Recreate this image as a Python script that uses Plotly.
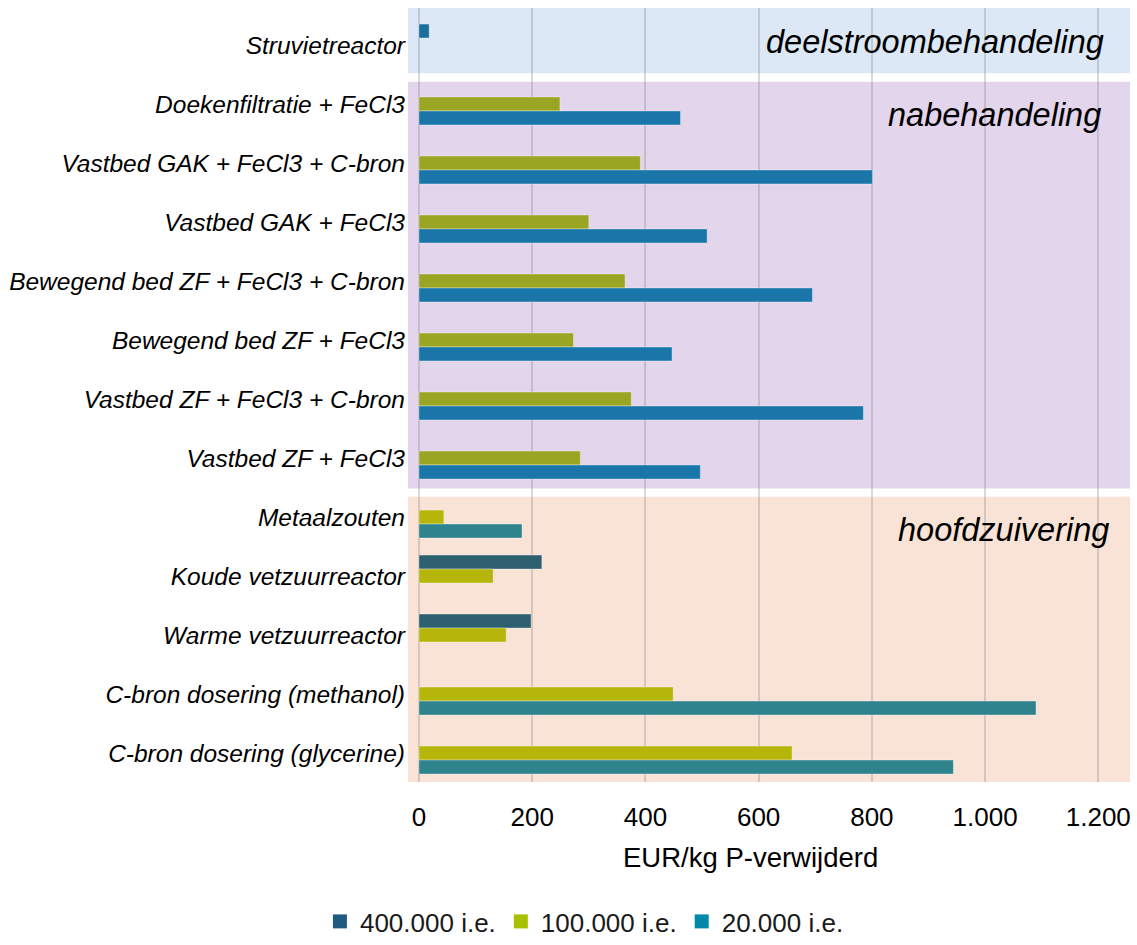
import plotly.graph_objects as go

# Maatregelen (van boven naar onder) en hun groep
categories = [
    "Struvietreactor",
    "Doekenfiltratie + FeCl3",
    "Vastbed GAK + FeCl3 + C-bron",
    "Vastbed GAK + FeCl3",
    "Bewegend bed ZF + FeCl3 + C-bron",
    "Bewegend bed ZF + FeCl3",
    "Vastbed ZF + FeCl3 + C-bron",
    "Vastbed ZF + FeCl3",
    "Metaalzouten",
    "Koude vetzuurreactor",
    "Warme vetzuurreactor",
    "C-bron dosering (methanol)",
    "C-bron dosering (glycerine)",
]
groups = ["deel"] + ["na"] * 7 + ["hoofd"] * 5

# Kosten in EUR/kg P-verwijderd per zuiveringsgrootte
series_names = ["400.000 i.e.", "100.000 i.e.", "20.000 i.e."]
v400 = [18, None, None, None, None, None, None, None, None, 217, 198, None, None]
v100 = [None, 249, 391, 300, 364, 273, 375, 285, 44, 131, 154, 449, 659]
v20 = [None, 462, 801, 509, 695, 447, 785, 497, 182, None, None, 1090, 944]

x_ticks = [0, 200, 400, 600, 800, 1000, 1200]
x_ticktext = ["0", "200", "400", "600", "800", "1.000", "1.200"]
x_title = "EUR/kg P-verwijderd"

group_labels = {"deel": "deelstroombehandeling", "na": "nabehandeling", "hoofd": "hoofdzuivering"}

# Kleuren per groep en per serie
bar_colors = {
    "deel": ["#1a6fa0", "#9aa523", "#1a75a8"],
    "na": ["#1f5b7a", "#9aa523", "#1a75a8"],
    "hoofd": ["#2e5f6e", "#b5b50a", "#2f838d"],
}
legend_colors = ["#1f5a80", "#a8c000", "#0088a8"]
band_colors = {"deel": "#dce8f5", "na": "#e2d5ec", "hoofd": "#f9e3d6"}

FONT = "Liberation Sans, Arial, sans-serif"

fig = go.Figure()

for i, (name, vals) in enumerate(zip(series_names, [v400, v100, v20])):
    fig.add_trace(go.Bar(
        name=name,
        y=categories,
        x=vals,
        orientation="h",
        marker=dict(
            color=[bar_colors[g][i] for g in groups],
            line=dict(width=1, color="rgba(255,255,255,0.35)"),
        ),
        showlegend=False,
        hoverinfo="x+y",
    ))

# Legenda-items met vierkante markers
for name, col in zip(series_names, legend_colors):
    fig.add_trace(go.Scatter(
        x=[None], y=[None], mode="markers", name=name,
        marker=dict(symbol="square", size=14, color=col),
        showlegend=True,
    ))

# Achtergrondvlakken per groep (in categorie-indexen)
bands = [
    ("deel", -0.8, 0.48),
    ("na", 0.622, 7.514),
    ("hoofd", 7.656, 12.6),
]
for g, y0, y1 in bands:
    fig.add_shape(
        type="rect", xref="x domain", yref="y",
        x0=0, x1=1, y0=y0, y1=y1,
        fillcolor=band_colors[g], line=dict(width=0), layer="below",
    )

# Groepslabels rechtsboven in elk vlak
label_pos = [("deel", 1214, -0.05), ("na", 1208, 1.19), ("hoofd", 1222, 8.22)]
for g, xv, yv in label_pos:
    fig.add_annotation(
        x=xv, y=yv, xref="x", yref="y", text=f"<i>{group_labels[g]}</i>",
        showarrow=False, xanchor="right", yanchor="middle",
        font=dict(family=FONT, size=32.5, color="#000000"),
    )

# Astitel onder de x-as
fig.add_annotation(
    x=0.474, y=-0.098, xref="paper", yref="paper", text=x_title,
    showarrow=False, xanchor="center", yanchor="middle",
    font=dict(family=FONT, size=27.5, color="#000000"),
)

fig.update_layout(
    width=1137, height=945,
    margin=dict(l=408, r=7, t=8, b=163),
    paper_bgcolor="white",
    plot_bgcolor="white",
    barmode="group",
    bargap=0.29,
    bargroupgap=0,
    font=dict(family=FONT, color="#000000"),
    legend=dict(
        orientation="h", xref="container", x=0.514, xanchor="center",
        yref="container", y=0, yanchor="bottom",
        font=dict(family=FONT, size=26, color="#1a1a1a"),
        itemwidth=30, tracegroupgap=0,
    ),
    xaxis=dict(
        range=[-19.4, 1256],
        tickvals=x_ticks, ticktext=x_ticktext,
        showgrid=True, gridcolor="rgba(128,128,128,0.3)", gridwidth=2,
        zeroline=False, showline=False,
        ticks="outside", ticklen=12, tickcolor="rgba(0,0,0,0)",
        tickfont=dict(family=FONT, size=26, color="#000000"),
    ),
    yaxis=dict(
        type="category",
        range=[12.49, -0.627],
        showgrid=False, zeroline=False, showline=False,
        ticks="", ticklabelstandoff=2,
        tickfont=dict(family=FONT, size=24.5, color="#000000"),
        tickvals=categories,
        ticktext=[f"<i>{c}</i>" for c in categories],
    ),
)

fig.write_html("out.html")
